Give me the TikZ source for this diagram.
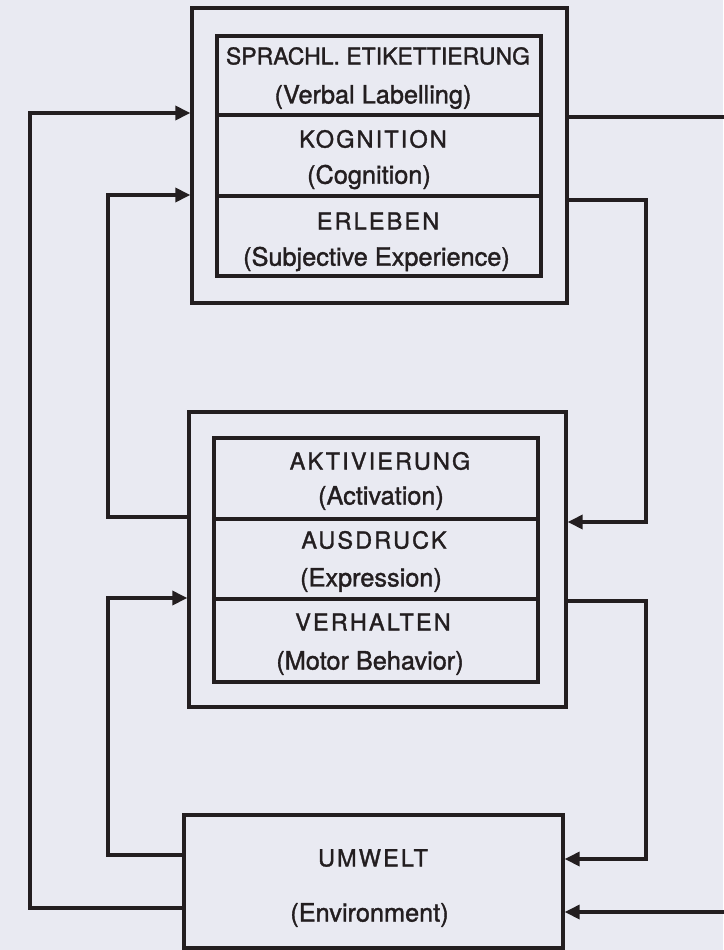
\documentclass[tikz,border=0pt]{standalone}
\usepackage{fontspec}
\setmainfont{TeX Gyre Heros}[FakeBold=1.4]
\newfontfamily\capsfont[LetterSpace=9, FakeBold=1.4]{TeX Gyre Heros}
\usetikzlibrary{arrows.meta}
\definecolor{paper}{HTML}{E9EAF2}
\definecolor{ink}{HTML}{231E20}
\tikzset{
  frame/.style={draw=ink, line width=3.3pt, rectangle, inner sep=0pt},
  capline/.style={text=ink, inner sep=0pt, font={\capsfont\fontsize{23.5}{27}\selectfont}},
  plainline/.style={text=ink, inner sep=0pt, font={\fontsize{23}{27}\selectfont}},
  subline/.style={text=ink, inner sep=0pt, font={\fontsize{25.3}{29}\selectfont}},
  link/.style={draw=ink, line width=3.3pt, line join=miter},
  feed/.style={link, -{Triangle[length=15pt, width=14pt]}}
}
\begin{document}
\begin{tikzpicture}[x=1pt, y=-1pt]
  \fill[paper] (0,0) rectangle (723,950);
  \useasboundingbox (0,0) rectangle (723,950);

  % upper block: verbal labelling, cognition, subjective experience
  \node[frame, minimum width=375pt, minimum height=295pt] (outerTop) at (379.5,155.5) {};
  \node[frame, minimum width=324pt, minimum height=79pt] (secLabel) at (379,75.5) {};
  \node[frame, minimum width=324pt, minimum height=81pt] (secCog) at (379,155.5) {};
  \node[frame, minimum width=324pt, minimum height=80pt] (secExp) at (379,236) {};
  \node[plainline] (tLabel) at (378,56) {SPRACHL. ETIKETTIERUNG};
  \node[subline] (tLabelEn) at (373,97) {(Verbal Labelling)};
  \node[capline] (tCog) at (373,139) {KOGNITION};
  \node[subline] (tCogEn) at (369,177) {(Cognition)};
  \node[capline] (tExp) at (378,221) {ERLEBEN};
  \node[subline] (tExpEn) at (376.5,259) {(Subjective Experience)};

  % middle block: activation, expression, motor behaviour
  \node[frame, minimum width=377pt, minimum height=295pt] (outerMid) at (377.5,559.5) {};
  \node[frame, minimum width=324pt, minimum height=81pt] (secAct) at (376,478.5) {};
  \node[frame, minimum width=324pt, minimum height=80pt] (secExpr) at (376,559) {};
  \node[frame, minimum width=324pt, minimum height=83pt] (secMot) at (376,640.5) {};
  \node[capline] (tAct) at (380,461) {AKTIVIERUNG};
  \node[subline] (tActEn) at (381,498) {(Activation)};
  \node[capline] (tExpr) at (374,540) {AUSDRUCK};
  \node[subline] (tExprEn) at (371,580) {(Expression)};
  \node[capline] (tMot) at (373,622) {VERHALTEN};
  \node[subline] (tMotEn) at (370,663) {(Motor Behavior)};

  % environment
  \node[frame, minimum width=379pt, minimum height=133pt] (umwelt) at (373.5,881.5) {};
  \node[capline] (tEnv) at (373,858) {UMWELT};
  \node[subline] (tEnvEn) at (369.5,915) {(Environment)};

  % corner points of the feedback loops
  \coordinate (a1) at (30,908);   \coordinate (a2) at (30,113);
  \coordinate (b1) at (108,517);  \coordinate (b2) at (108,195);
  \coordinate (c1) at (108,855);  \coordinate (c2) at (108,598);
  \coordinate (d1) at (646,200);  \coordinate (d2) at (646,522);
  \coordinate (e1) at (646,601);  \coordinate (e2) at (646,859);
  \coordinate (f1) at (740,117);  \coordinate (f2) at (740,912);

  % left side: returns into the upper blocks
  \draw[feed] (a1 -| umwelt.west) -- (a1) -- (a2) -- (a2 -| outerTop.west);
  \draw[feed] (b1 -| outerMid.west) -- (b1) -- (b2) -- (b2 -| outerTop.west);
  \draw[feed] (c1 -| umwelt.west) -- (c1) -- (c2) -- (c2 -| outerMid.west);

  % right side: downward paths
  \draw[feed] (d1 -| outerTop.east) -- (d1) -- (d2) -- (d2 -| outerMid.east);
  \draw[feed] (e1 -| outerMid.east) -- (e1) -- (e2) -- (e2 -| umwelt.east);
  \draw[feed] (f1 -| outerTop.east) -- (f1) -- (f2) -- (f2 -| umwelt.east);
\end{tikzpicture}
\end{document}
